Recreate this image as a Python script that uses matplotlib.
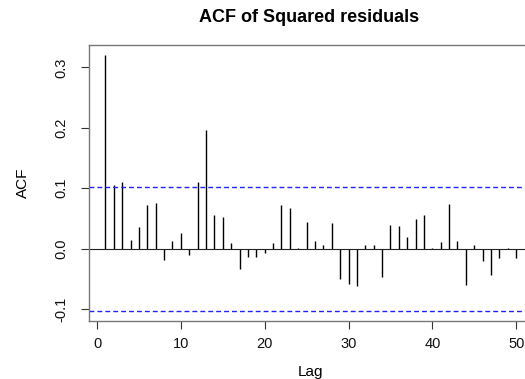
import numpy as np
import matplotlib
matplotlib.use("Agg")
import matplotlib.pyplot as plt

plt.rcParams['font.family'] = ['Liberation Sans', 'DejaVu Sans']

# ACF of squared residuals, lags 1..50
lags = list(range(1, 51))
acf_vals = [0.320, 0.105, 0.111, 0.014, 0.036, 0.072, 0.075, -0.018, 0.013, 0.026,
            -0.010, 0.111, 0.196, 0.056, 0.053, 0.010, -0.033, -0.013, -0.013, -0.007,
            0.010, 0.072, 0.068, 0.002, 0.045, 0.013, 0.007, 0.043, -0.050, -0.059,
            -0.062, 0.007, 0.006, -0.047, 0.039, 0.038, 0.020, 0.050, 0.056, 0.002,
            0.012, 0.074, 0.013, -0.060, 0.006, -0.020, -0.044, -0.015, 0.002, -0.015]
ci = 0.1025
x_ticks = [0, 10, 20, 30, 40, 50]
y_ticks = [-0.1, 0.0, 0.1, 0.2, 0.3]
y_ticklabels = ["-0.1", "0.0", "0.1", "0.2", "0.3"]

fig = plt.figure(figsize=(5.25, 3.79), dpi=100)
ax = fig.add_axes([89 / 525, 58 / 379, 443.6 / 525, 276 / 379])

ax.vlines(lags, 0, acf_vals, colors="black", linewidth=1.0)
ax.axhline(0, color="#222222", linewidth=0.8)
for c in (ci, -ci):
    ax.axhline(c, color="#2222ff", linewidth=1.0, linestyle=(0, (3.5, 2.2)))

lo = min(min(acf_vals), -ci)
hi = max(max(acf_vals), ci)
pad = (hi - lo) * 0.04
ax.set_ylim(lo - pad, hi + pad)
xpad = (lags[-1] - lags[0]) * 0.04
ax.set_xlim(lags[0] - xpad, lags[-1] + xpad)

ax.set_xticks(x_ticks)
ax.set_yticks(y_ticks)
ax.set_yticklabels(y_ticklabels, rotation=90, va="center")
ax.tick_params(axis="both", direction="out", length=5.5, width=0.8, labelsize=10.5,
               color="#333333", labelcolor="#111111")
ax.tick_params(axis="x", pad=6)
ax.tick_params(axis="y", pad=9)
for s in ax.spines.values():
    s.set_color("#777777")
    s.set_linewidth(1.0)

ax.set_xlabel("Lag", fontsize=11, labelpad=10)
ax.set_ylabel("ACF", fontsize=11, labelpad=18)
fig.text(309 / 525, 1 - 22 / 379, "ACF of Squared residuals", ha="center", va="baseline",
         fontsize=13, fontweight="bold")

fig.savefig("out.png", dpi=100)
